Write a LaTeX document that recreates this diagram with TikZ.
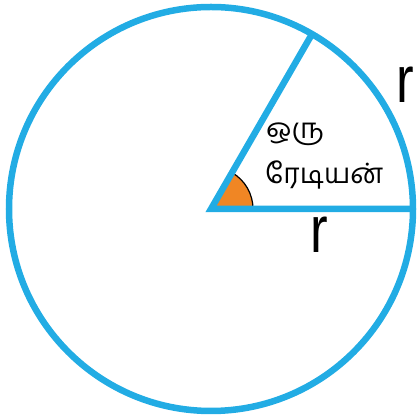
\documentclass[tikz,border=0pt]{standalone}
\usepackage{fontspec}
\usetikzlibrary{calc}
\newfontfamily\tamilfont[Script=Tamil]{Hind Madurai}
\newfontfamily\rfont{Liberation Sans}
\definecolor{cblue}{RGB}{34,172,228}
\definecolor{corange}{RGB}{240,134,36}
\begin{document}
\begin{tikzpicture}[x=1pt,y=1pt,
  rim/.style={draw=cblue,line width=6.5pt},
  tlabel/.style={anchor=west,inner sep=0pt,font=\tamilfont\fontsize{28}{30}\selectfont},
  rlabel/.style={inner sep=0pt,font=\rfont\fontsize{66}{66}\selectfont}]
\useasboundingbox (0,0) rectangle (418,417);
\coordinate (O) at (211,208);
\coordinate (A) at ($(O)+(0:202)$);
\coordinate (B) at ($(O)+(60:202)$);
\fill[corange] (O) -- ++(0:42) arc (0:60:42) -- cycle;
\draw[line width=1.2pt] ($(O)+(0:42)$) arc (0:60:42);
\draw[rim] (O) circle (202);
\draw[rim,line join=miter] (A) -- (O) -- (B);
\node[tlabel] (t1) at (266,283) {ஒரு};
\node[tlabel] (t2) at (265,242) {ரேடியன்};
\node[rlabel] (r1) at (405,332) {\scalebox{0.8}[1]{r}};
\node[rlabel] (r2) at (319,182) {\scalebox{0.8}[1]{r}};
\end{tikzpicture}
\end{document}
